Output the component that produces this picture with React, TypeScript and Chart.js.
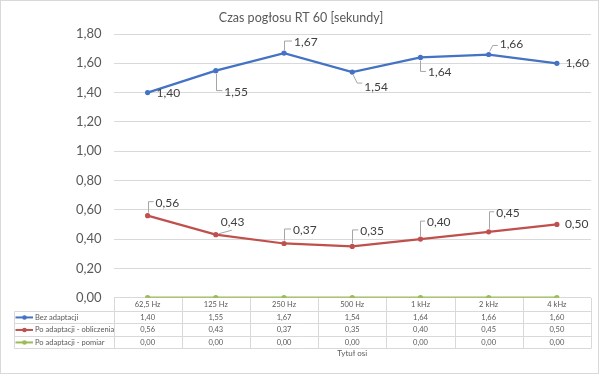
import React, { useEffect, useRef } from 'react';
import { Chart, registerables } from 'chart.js';

Chart.register(...registerables);

const TITLE = 'Czas pogłosu RT 60 [sekundy]';
const AXIS_TITLE = 'Tytuł osi';
const CATEGORIES = ['62,5 Hz', '125 Hz', '250 Hz', '500 Hz', '1 kHz', '2 kHz', '4 kHz'];
const SERIES_NAMES = ['Bez adaptacji', 'Po adaptacji - obliczenia', 'Po adaptacji - pomiar'];
const BEZ_ADAPTACJI = [1.4, 1.55, 1.67, 1.54, 1.64, 1.66, 1.6];
const OBLICZENIA = [0.56, 0.43, 0.37, 0.35, 0.4, 0.45, 0.5];
const POMIAR = [0, 0, 0, 0, 0, 0, 0];
const Y_MIN = 0;
const Y_MAX = 1.8;
const Y_STEP = 0.2;

const COLORS = ['#4472C4', '#C0504D', '#9BBB59'];
const TEXT = '#595959';
const GRID = '#D9D9D9';
const FONT = 'Lato, "Open Sans", sans-serif';

// label placement (style only): [dx, dy, leader]
type Place = [number, number, string];
const LABEL_PLACES: (Place[] | null)[] = [
  [
    [9, 1, 'none'],
    [8.5, 21, 'v'],
    [10, -11, 'v'],
    [12, 15, 'd'],
    [7.5, 15, 'v'],
    [11, -10, 'd'],
    [8.5, 0, 'none'],
  ],
  [
    [8, -13, 'v'],
    [5, -12.5, 'u'],
    [9, -13.5, 'v'],
    [8, -15.5, 'v'],
    [6.5, -17, 'v'],
    [7.5, -19, 'v'],
    [8, 0, 'none'],
  ],
  null,
];

const fmt = (v: number) => v.toFixed(2).replace('.', ',');

const decorPlugin = {
  id: 'decor',
  beforeDraw(chart: any) {
    const { ctx, width, height } = chart;
    ctx.save();
    ctx.fillStyle = '#ffffff';
    ctx.fillRect(0, 0, width, height);
    ctx.strokeStyle = GRID;
    ctx.lineWidth = 1;
    ctx.strokeRect(0.5, 0.5, width - 4, height - 2);
    // title
    ctx.fillStyle = TEXT;
    ctx.font = `12.5px ${FONT}`;
    ctx.textAlign = 'center';
    ctx.textBaseline = 'middle';
    ctx.fillText(TITLE, 301, 18);
    ctx.restore();
  },
  afterDatasetsDraw(chart: any) {
    const { ctx } = chart;
    ctx.save();
    ctx.font = `12px ${FONT}`;
    ctx.textBaseline = 'middle';
    ctx.textAlign = 'left';
    chart.data.datasets.forEach((ds: any, di: number) => {
      const places = LABEL_PLACES[di];
      if (!places) return;
      const meta = chart.getDatasetMeta(di);
      meta.data.forEach((pt: any, i: number) => {
        const [dx, dy, leader] = places[i];
        const px = pt.x;
        const py = pt.y;
        const lx = px + dx;
        const ly = py + dy;
        ctx.strokeStyle = '#A6A6A6';
        ctx.lineWidth = 1;
        if (leader === 'v') {
          const s = dy < 0 ? -1 : 1;
          const hy = ly - 1;
          ctx.beginPath();
          ctx.moveTo(Math.round(px) + 0.5, py + s * 3);
          ctx.lineTo(Math.round(px) + 0.5, hy);
          ctx.lineTo(lx - 2, hy);
          ctx.stroke();
        } else if (leader === 'd') {
          const s = dy < 0 ? -1 : 1;
          const hy = dy > 0 ? ly - 4 : ly + 1;
          ctx.beginPath();
          ctx.moveTo(px + 1, py + s * 3);
          ctx.lineTo(lx - 7, hy);
          ctx.lineTo(lx - 2, hy);
          ctx.stroke();
        } else if (leader === 'u') {
          ctx.beginPath();
          ctx.moveTo(px + 3, py - 1);
          ctx.lineTo(lx + 11, ly + 8);
          ctx.stroke();
        }
        ctx.fillStyle = '#404040';
        ctx.fillText(fmt(ds.data[i]), lx, ly);
      });
    });
    ctx.restore();
  },
  afterDraw(chart: any) {
    const { ctx, chartArea: ca } = chart;
    const n = CATEGORIES.length;
    const colW = (ca.right - ca.left) / n;
    const top = ca.bottom;
    const headerH = 13;
    const rowH = 12.5;
    const tableLeft = 14.5;
    const rowsTop = top + headerH;
    const bottom = rowsTop + rowH * SERIES_NAMES.length;
    ctx.save();
    ctx.strokeStyle = GRID;
    ctx.lineWidth = 1;
    ctx.beginPath();
    for (let r = 0; r <= SERIES_NAMES.length; r++) {
      const y = Math.round(rowsTop + r * rowH) + 0.5;
      ctx.moveTo(tableLeft, y);
      ctx.lineTo(ca.right, y);
    }
    ctx.moveTo(tableLeft, Math.round(rowsTop) + 0.5);
    ctx.lineTo(tableLeft, Math.round(bottom) + 0.5);
    for (let c = 0; c <= n; c++) {
      const x = Math.round(ca.left + c * colW) + 0.5;
      ctx.moveTo(x, Math.round(top));
      ctx.lineTo(x, Math.round(bottom) + 0.5);
    }
    ctx.stroke();

    const series = [BEZ_ADAPTACJI, OBLICZENIA, POMIAR];
    ctx.font = `7.5px ${FONT}`;
    ctx.textBaseline = 'middle';
    series.forEach((vals, si) => {
      const cy = rowsTop + rowH * si + rowH / 2 + 0.5;
      // legend key
      ctx.strokeStyle = COLORS[si];
      ctx.lineWidth = 2;
      ctx.beginPath();
      ctx.moveTo(15.5, cy);
      ctx.lineTo(33, cy);
      ctx.stroke();
      ctx.fillStyle = COLORS[si];
      ctx.beginPath();
      ctx.arc(24.5, cy, 2.3, 0, Math.PI * 2);
      ctx.fill();
      ctx.fillStyle = TEXT;
      ctx.textAlign = 'left';
      ctx.fillText(SERIES_NAMES[si], 35, cy);
      ctx.textAlign = 'center';
      vals.forEach((v, i) => {
        const cx = chart.scales.x.getPixelForValue(i);
        ctx.fillText(fmt(v), cx, cy);
      });
    });
    ctx.restore();
  },
};

export default function App() {
  const ref = useRef<HTMLCanvasElement>(null);
  useEffect(() => {
    if (!ref.current) return;
    const mk = (label: string, data: number[], color: string) => ({
      label,
      data,
      borderColor: color,
      backgroundColor: color,
      borderWidth: 2.25,
      pointRadius: 2.6,
      pointBorderWidth: 0,
      pointBackgroundColor: color,
      tension: 0,
    });
    const chart = new Chart(ref.current, {
      type: 'line',
      data: {
        labels: CATEGORIES,
        datasets: [
          mk(SERIES_NAMES[0], BEZ_ADAPTACJI, COLORS[0]),
          mk(SERIES_NAMES[1], OBLICZENIA, COLORS[1]),
          mk(SERIES_NAMES[2], POMIAR, COLORS[2]),
        ],
      },
      options: {
        responsive: false,
        animation: false,
        layout: { padding: { top: 34, left: 0, right: 11, bottom: 0 } },
        plugins: {
          legend: { display: false },
          title: { display: false },
          tooltip: { enabled: false },
        },
        scales: {
          x: {
            type: 'category',
            offset: true,
            grid: { display: false, drawTicks: false },
            border: { display: false },
            ticks: {
              font: { family: FONT, size: 7.5 },
              color: TEXT,
              padding: 2,
              maxRotation: 0,
              autoSkip: false,
            },
            title: {
              display: true,
              text: AXIS_TITLE,
              font: { family: FONT, size: 8 },
              color: TEXT,
              padding: { top: 0, bottom: 16.5 },
            },
            afterFit: (s: any) => {
              s.height = 375 - 297.7;
            },
          },
          y: {
            min: Y_MIN,
            max: Y_MAX,
            ticks: {
              stepSize: Y_STEP,
              callback: (v: any) => fmt(Number(v)),
              font: { family: FONT, size: 13 },
              color: TEXT,
              padding: 12,
            },
            grid: { color: GRID, drawTicks: false },
            border: { display: false },
            afterFit: (s: any) => {
              s.width = 113.5;
            },
          },
        },
      },
      plugins: [decorPlugin],
    } as any);
    return () => chart.destroy();
  }, []);
  return (
    <div style={{ position: 'absolute', left: 0, top: 0, width: 602, height: 375 }}>
      <canvas ref={ref} width={602} height={375} style={{ display: 'block' }} />
    </div>
  );
}
